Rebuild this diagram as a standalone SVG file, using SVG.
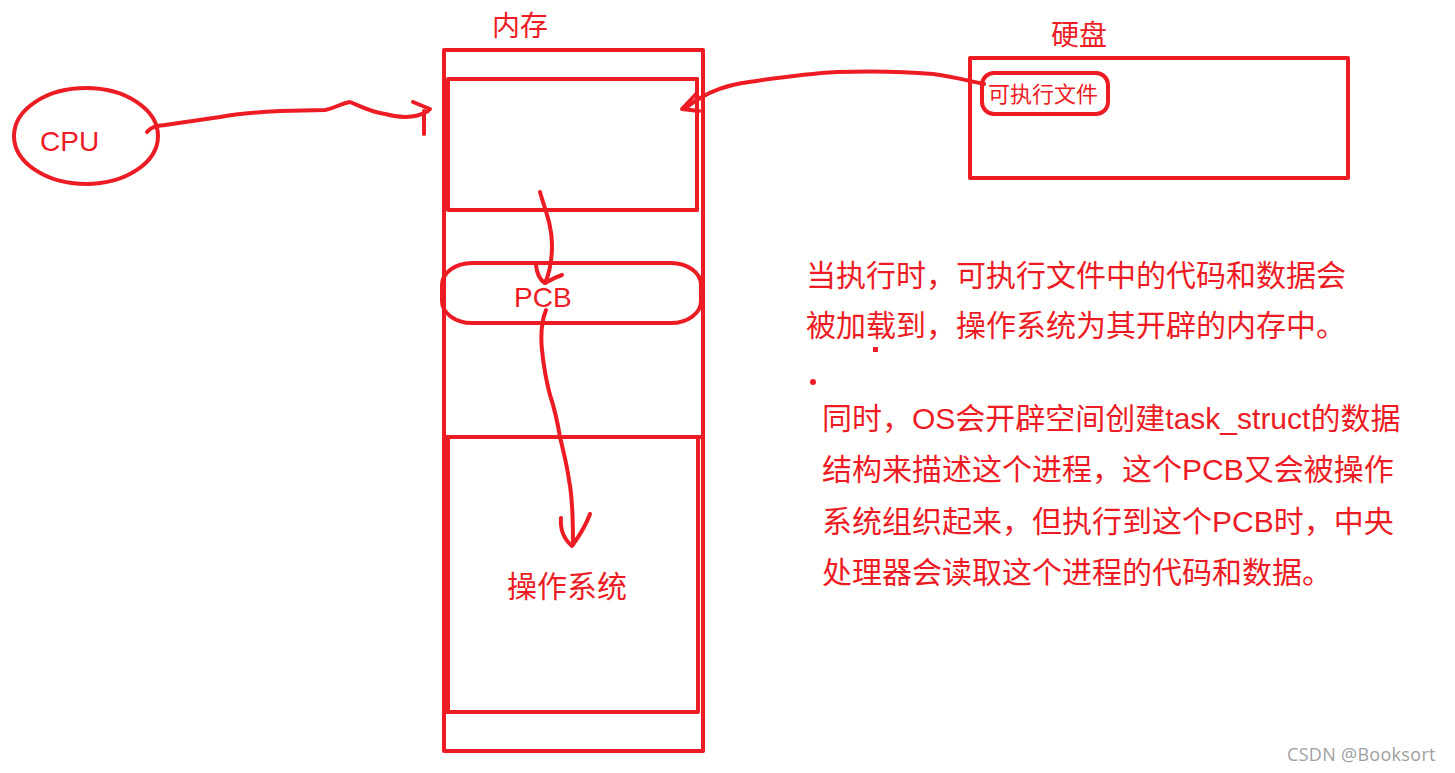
<svg xmlns="http://www.w3.org/2000/svg" width="1455" height="773" viewBox="0 0 1455 773">
<style>
.s{fill:none;stroke:#ED1C24;stroke-width:4;stroke-linecap:round;stroke-linejoin:round}
.t{fill:#ED1C24;font-family:"Liberation Sans","Noto Sans CJK SC",sans-serif}
</style>
<rect width="1455" height="773" fill="#fff"/>
<g id="memory">
<text class="t" x="492" y="36" font-size="28">内存</text>
<rect class="s" x="444" y="50" width="259" height="701" stroke-linecap="butt"/>
<rect class="s" x="448" y="79" width="249" height="131"/>
<line class="s" x1="697" y1="79" x2="697" y2="210" stroke-width="6"/>
<line class="s" x1="446" y1="437" x2="701" y2="437"/>
<rect class="s" x="448" y="437" width="250" height="275"/>
<line class="s" x1="447" y1="437" x2="447" y2="712" stroke-width="6"/>
</g>
<g id="pcb">
<rect class="s" x="442" y="263" width="259" height="60" rx="30" ry="22"/>
<text class="t" x="514" y="307" font-size="28">PCB</text>
</g>
<g id="os">
<text class="t" x="507" y="597" font-size="30">操作系统</text>
</g>
<g id="cpu">
<ellipse class="s" cx="86" cy="136" rx="72" ry="48"/>
<text class="t" x="40" y="151" font-size="28">CPU</text>
</g>
<g id="disk">
<text class="t" x="1051" y="45" font-size="28">硬盘</text>
<rect class="s" x="970" y="58" width="378" height="120"/>
</g>
<g id="exe">
<rect class="s" x="982" y="73" width="126" height="41" rx="12"/>
<text class="t" x="988" y="102" font-size="22">可执行文件</text>
</g>
<g id="connectors">
<path class="s" d="M147,132 C152,126 158,126 165,125 L220,117 C240,113 260,112 280,111 L325,110 C335,108 342,103 350,102 C360,106 370,112 385,114 C400,118 415,119 428,111"/>
<path class="s" d="M413,102 L430,109 M424,111 L424,134"/>
<path class="s" d="M984,84 C965,80 950,76 933,74 C900,71 870,71 837,72 C800,74 770,79 742,83 C725,86 712,91 700,98 C692,103 688,106 684,109"/>
<path class="s" d="M697,93 L682,109 L699,111"/>
<path class="s" d="M540,192 C545,210 552,225 552,245 C552,260 550,272 545,283"/>
<path class="s" d="M536,265 C537,275 540,280 545,283 C550,280 556,277 562,275"/>
<path class="s" d="M546,310 C540,325 541,340 542,350 C544,370 546,380 550,395 C555,410 558,425 560,437 C563,450 567,465 569,480 C572,495 573,510 573,543"/>
<path class="s" d="M561,518 C560,530 565,540 572,546 C580,535 586,525 590,514"/>
</g>
<g id="notes">
<text class="t" font-size="30"><tspan x="806" y="286">当执行时，可执行文件中的代码和数据会</tspan><tspan x="806" y="336">被加载到，操作系统为其开辟的内存中。</tspan></text>
<rect x="873" y="347" width="5" height="5" fill="#ED1C24"/>
<circle cx="813" cy="382" r="3" fill="#ED1C24"/>
<text class="t" font-size="30"><tspan x="822" y="429">同时，OS会开辟空间创建task_struct的数据</tspan><tspan x="822" y="480">结构来描述这个进程，这个PCB又会被操作</tspan><tspan x="822" y="532">系统组织起来，但执行到这个PCB时，中央</tspan><tspan x="822" y="583">处理器会读取这个进程的代码和数据。</tspan></text>
</g>
<text x="1287" y="761" font-size="18" letter-spacing="0.3" fill="#a0a0a0" font-family="'Open Sans','Noto Sans',sans-serif">CSDN @Booksort</text>
</svg>
